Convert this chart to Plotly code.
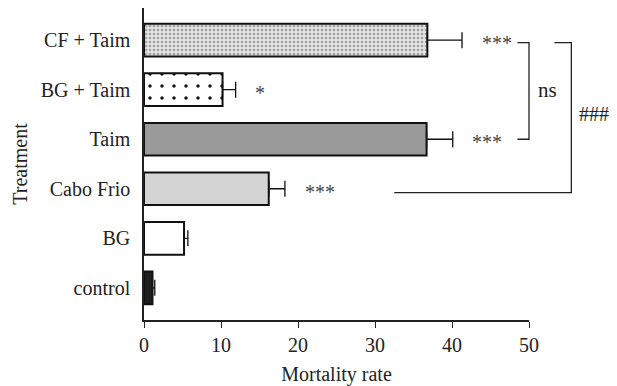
import plotly.graph_objects as go

categories = ["control", "BG", "Cabo Frio", "Taim", "BG + Taim", "CF + Taim"]
mortality = [1.1, 5.2, 16.2, 36.7, 10.2, 36.8]
err_plus = [0.3, 0.5, 2.1, 3.4, 1.7, 4.5]
significance = ["", "", "***", "***", "*", "***"]
fills = ["#1e1e1e", "#ffffff", "#d4d4d4", "#9a9a9a", "#ffffff", "#e4e4e4"]
pattern_shapes = ["", "", "", "", ".", "."]
pattern_fg = ["#000", "#000", "#000", "#000", "#111111", "#a0a0a0"]
pattern_size = [8, 8, 8, 8, 12, 4]
pattern_solid = [0.3, 0.3, 0.3, 0.3, 0.065, 0.35]

XMAX = 50
OFF = 8  # page body margin offset
L, R, T, B = 144 - OFF, 88, 8 - OFF, 66
W, H = 617 - OFF, 386 - OFF
font = "Liberation Serif"

fig = go.Figure()
for i, cat in enumerate(categories):
    marker = dict(color=fills[i], line=dict(color="#111", width=2))
    if pattern_shapes[i]:
        marker["pattern"] = dict(shape=pattern_shapes[i], fgcolor=pattern_fg[i], bgcolor=fills[i],
                                 size=pattern_size[i], solidity=pattern_solid[i],
                                 fillmode="overlay", fgopacity=1)
    fig.add_trace(go.Bar(
        y=[cat], x=[mortality[i]], orientation="h", width=0.66, marker=marker,
        error_x=dict(type="data", array=[err_plus[i]], arrayminus=[0], color="#111",
                     thickness=1.3, width=8, symmetric=False),
    ))

def px(v):
    return v / XMAX  # paper x from data value

def cy(i):
    # paper y for category index i, range [-0.65, 5.65]
    return (i + 0.65) / 6.3

anns = []
for i, s in enumerate(significance):
    if s:
        anns.append(dict(x=px(mortality[i] + err_plus[i] + 2.3), y=cy(i), xref="paper", yref="paper",
                         text=s, showarrow=False, xanchor="left", yanchor="middle", yshift=-3,
                         font=dict(family=font, size=20, color="#444")))
anns.append(dict(x=px(50.9), y=cy(4), xref="paper", yref="paper", text="ns", showarrow=False,
                 xanchor="left", yanchor="middle", font=dict(family=font, size=21, color="#222")))
anns.append(dict(x=px(56.2), y=cy(3.5), xref="paper", yref="paper", text="###", showarrow=False,
                 xanchor="left", yanchor="middle", font=dict(family=font, size=20, color="#222")))

line = dict(color="#222", width=1.3)
shapes = [
    dict(type="path", xref="paper", yref="paper",
         path=f"M {px(48.5)} {cy(4.95)} L {px(50)} {cy(4.95)} L {px(50)} {cy(3)} L {px(48.5)} {cy(3)}",
         line=line),
    dict(type="path", xref="paper", yref="paper",
         path=f"M {px(53.3)} {cy(4.95)} L {px(55.5)} {cy(4.95)} L {px(55.5)} {cy(1.92)} L {px(32.5)} {cy(1.92)}",
         line=line),
]

fig.update_layout(
    width=W, height=H, margin=dict(l=L, r=R, t=T, b=B, autoexpand=False),
    paper_bgcolor="white", plot_bgcolor="white", showlegend=False, barmode="overlay",
    font=dict(family=font, size=20, color="#222"),
    annotations=anns, shapes=shapes,
    xaxis=dict(range=[0, XMAX], tickvals=[0, 10, 20, 30, 40, 50], ticks="outside", ticklen=6,
               tickwidth=1.3, tickcolor="#222", showline=True, linecolor="#222", linewidth=1.5,
               showgrid=False, zeroline=False, tickfont=dict(family=font, size=20),
               automargin=False,
               title=dict(text="Mortality rate", font=dict(family=font, size=20), standoff=12)),
    yaxis=dict(range=[-0.65, 5.65], categoryorder="array", categoryarray=categories,
               showline=True, linecolor="#222", linewidth=1.5,
               showgrid=False, zeroline=False, ticks="", ticklabelstandoff=8,
               tickfont=dict(family=font, size=20), automargin=False,
               title=dict(text="Treatment", font=dict(family=font, size=20), standoff=8)),
)

fig.write_html("out.html")
